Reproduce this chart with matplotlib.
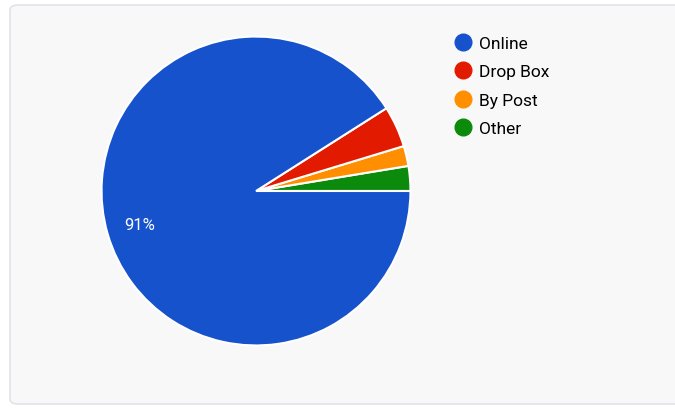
import matplotlib.pyplot as plt
from matplotlib.patches import FancyBboxPatch
from matplotlib.lines import Line2D

plt.rcParams['font.family'] = ['Roboto', 'DejaVu Sans']

# slices in drawing order (counter-clockwise from 3 o'clock)
labels = ["Other", "By Post", "Drop Box", "Online"]
values = [2.6, 2.1, 4.3, 91.0]
colors = ["#0b8a0b", "#ff8f00", "#e21b00", "#1652cc"]
legend_order = ["Online", "Drop Box", "By Post", "Other"]

W, H = 675, 410
fig = plt.figure(figsize=(W / 100, H / 100), dpi=100)
fig.patch.set_facecolor("white")

# card background
card = FancyBboxPatch((10 / W, 5 / H), 700 / W, 399 / H,
                      boxstyle="round,pad=0,rounding_size=0.012",
                      transform=fig.transFigure, facecolor="#f8f8f8",
                      edgecolor="#e2e2ea", linewidth=1.2, zorder=-10)
fig.patches.append(card)

cx, cy, r = 256, 192, 156
ax = fig.add_axes([(cx - r) / W, (H - cy - r) / H, 2 * r / W, 2 * r / H])
ax.set_facecolor("none")

def fmt(p):
    return "%d%%" % round(p) if p > 50 else ""

wedges, texts, autotexts = ax.pie(
    values, colors=colors, startangle=0, counterclock=True,
    autopct=fmt, pctdistance=0.73,
    wedgeprops=dict(edgecolor="white", linewidth=1.5),
    textprops=dict(color="white", fontsize=12))
for t in autotexts:
    t.set_position((-0.75, -0.22))
ax.set_xlim(-1.01, 1.01)
ax.set_ylim(-1.01, 1.01)
ax.set_aspect("equal")
ax.axis("off")

col = dict(zip(labels, colors))
handles = [Line2D([], [], marker="o", linestyle="none", markersize=12,
                  markerfacecolor=col[n], markeredgecolor=col[n])
           for n in legend_order]
fig.legend(handles, legend_order, loc="upper left",
           bbox_to_anchor=(453 / W, 1 - 37 / H), frameon=False,
           fontsize=12.5, handletextpad=0.3, labelspacing=0.76,
           handlelength=1.2, borderaxespad=0, borderpad=0)

fig.savefig("out.png", dpi=100, facecolor="white")
